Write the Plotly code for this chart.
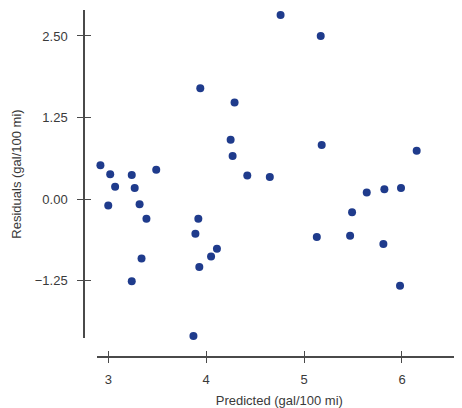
import plotly.graph_objects as go

predicted = [2.88, 3.00, 3.32, 2.92, 3.02, 3.24, 3.07, 3.27, 3.49, 3.39, 3.34, 3.24,
             3.94, 4.29, 4.25, 4.27, 4.42, 4.65, 3.92, 3.89, 3.93, 4.05, 4.11, 3.87,
             4.76, 5.17, 5.18, 5.64, 5.82, 5.99, 6.15, 5.49, 5.13, 5.47, 5.81, 5.98, 6.59]
residuals = [-0.10, -0.10, -0.08, 0.52, 0.38, 0.37, 0.19, 0.17, 0.45, -0.30, -0.91, -1.26,
             1.70, 1.48, 0.91, 0.66, 0.36, 0.34, -0.30, -0.53, -1.04, -0.88, -0.76, -2.10,
             2.82, 2.50, 0.83, 0.10, 0.15, 0.17, 0.74, -0.20, -0.58, -0.56, -0.69, -1.33, -1.70]

x_ticks = [3, 4, 5, 6]
x_tick_labels = ["3", "4", "5", "6"]
y_ticks = [-1.25, 0.0, 1.25, 2.50]
y_tick_labels = ["\u22121.25", "0.00", "1.25", "2.50"]

x_title = "Predicted (gal/100 mi)"
y_title = "Residuals (gal/100 mi)"

# the page body adds an 8px margin, so the figure is laid out 8px smaller
OFF = 8
W, H = 462 - OFF, 408 - OFF
X_RANGE = [2.882, 3 + (462 - 108.3) / 97.9]
Y_RANGE = [-2.129, 2.898]
AX = "#4a4a4a"
TXT = "#3a3a3a"
FONT = dict(family="Liberation Sans, Arial, sans-serif", size=13, color=TXT)

fig = go.Figure()
fig.add_trace(go.Scatter(
    x=predicted, y=residuals, mode="markers",
    marker=dict(color="#1f3b8c", size=8, line=dict(width=0)),
    cliponaxis=False, showlegend=False, hoverinfo="x+y",
))
# empty trace so the overlay axes (inside half of crossing ticks) are drawn
fig.add_trace(go.Scatter(x=[], y=[], xaxis="x2", yaxis="y2", showlegend=False))

x_dom = [(96.7 - OFF) / W, 1.0]
y_dom = [1 - (338 - OFF) / H, 1 - (10 - OFF) / H]
y_pos = (84 - OFF) / W
x_pos = 1 - (356.7 - OFF) / H

common_x = dict(range=X_RANGE, domain=x_dom, anchor="free", position=x_pos,
                tickvals=x_ticks, showgrid=False, zeroline=False,
                automargin=False, tickcolor=AX, tickwidth=1.3, ticklen=6)
common_y = dict(range=Y_RANGE, domain=y_dom, anchor="free", position=y_pos,
                tickvals=y_ticks, showgrid=False, zeroline=False,
                automargin=False, tickcolor=AX, tickwidth=1.3, ticklen=6)

fig.update_layout(
    width=W, height=H,
    margin=dict(l=0, r=0, t=0, b=0),
    paper_bgcolor="white", plot_bgcolor="white",
    template="none",
    font=FONT,
    showlegend=False,
    xaxis=dict(**common_x, ticktext=x_tick_labels, ticks="outside",
               showline=True, linecolor=AX, linewidth=1.5,
               tickfont=FONT, ticklabelstandoff=5,
               title=dict(text=x_title, font=FONT, standoff=9)),
    yaxis=dict(**common_y, ticktext=y_tick_labels, ticks="outside",
               showline=True, linecolor=AX, linewidth=1.5,
               tickfont=FONT, ticklabelstandoff=7,
               title=dict(text=y_title, font=FONT, standoff=9)),
    xaxis2=dict(**common_x, overlaying="x", ticks="inside",
                showticklabels=False, showline=False),
    yaxis2=dict(**common_y, overlaying="y", ticks="inside",
                showticklabels=False, showline=False),
)

fig.write_html("out.html")
